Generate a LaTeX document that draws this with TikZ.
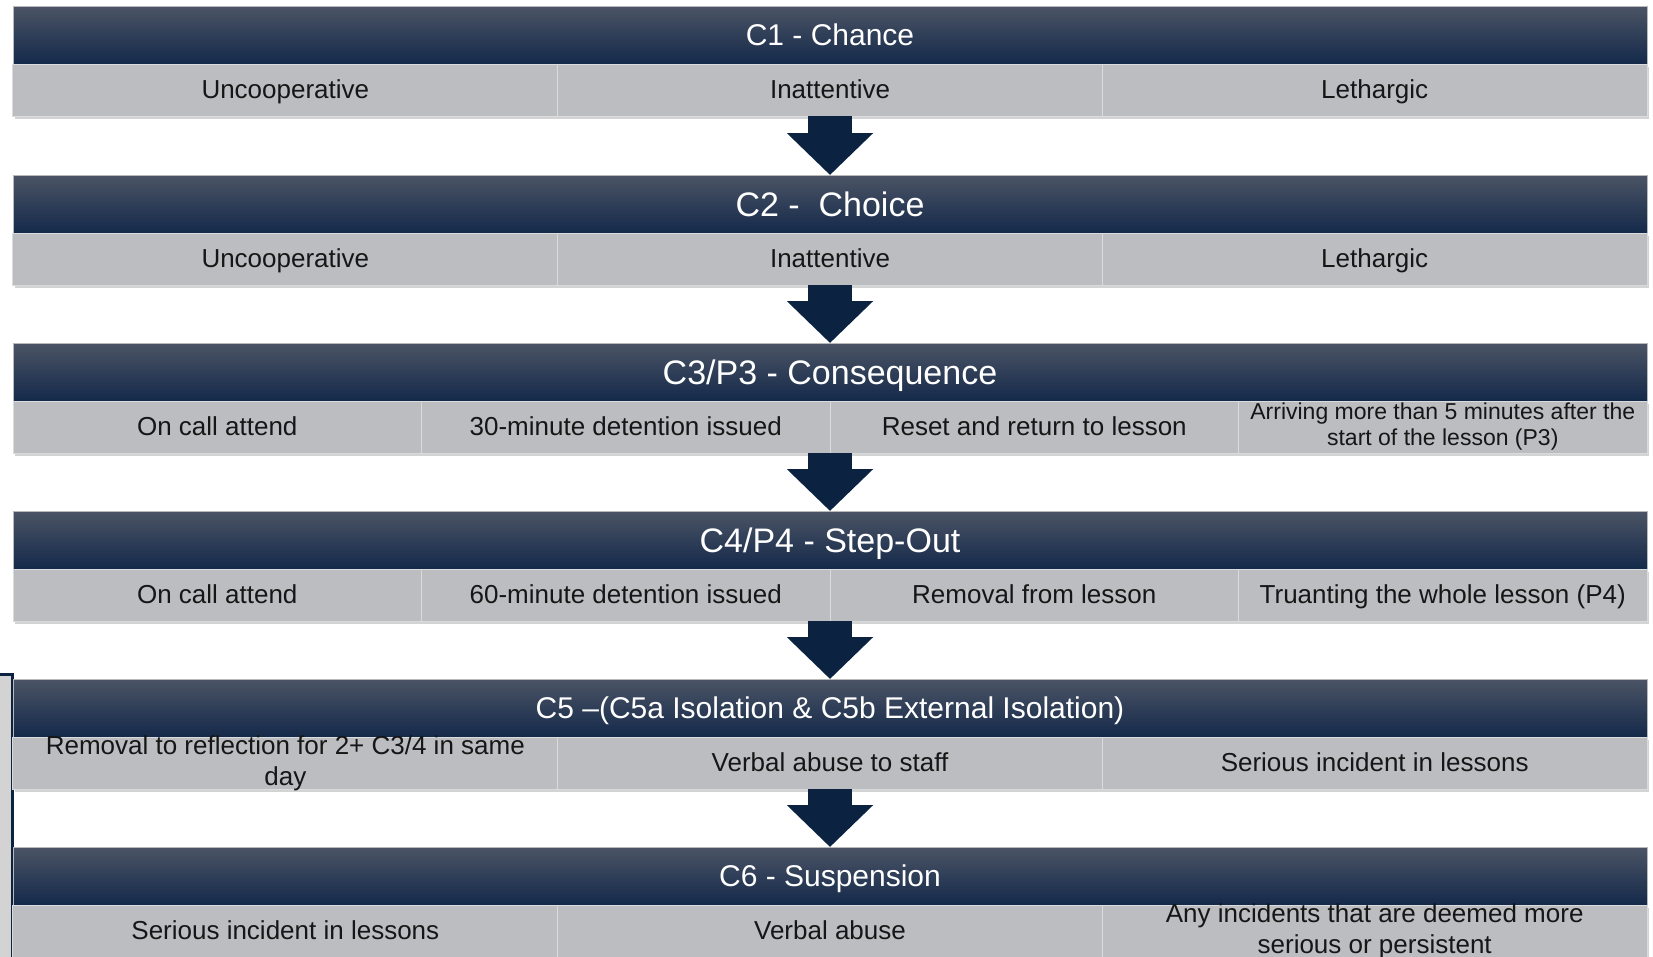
\documentclass[tikz,border=0pt]{standalone}
\usepackage{fontspec}
\setmainfont{Liberation Sans}
\usetikzlibrary{arrows.meta,shadows}
\definecolor{navy}{HTML}{0B2341}
\definecolor{headtop}{HTML}{4B5465}
\definecolor{headbot}{HTML}{14294A}
\definecolor{rowgrey}{HTML}{BBBDC1}
\definecolor{rowline}{HTML}{DADBDD}
\definecolor{sidegrey}{HTML}{D3D3D3}
\definecolor{ink}{HTML}{161616}

\begin{document}
\begin{tikzpicture}[x=1pt,y=-1pt,
  hdr/.style={top color=headtop,bottom color=headbot,draw=gray!55,line width=0.6pt,minimum width=1634pt,minimum height=58pt,inner sep=0pt,outer sep=0pt,text=white,text depth=0pt},
  hbig/.style={hdr,font=\fontsize{34}{40}\selectfont,text height=24.5pt},
  hsmall/.style={hdr,font=\fontsize{30}{36}\selectfont,text height=21.6pt},
  rowbg/.style={fill=rowgrey,minimum width=1634pt,minimum height=52pt,inner sep=0pt,outer sep=0pt,drop shadow={shadow xshift=1.5pt,shadow yshift=-3pt,opacity=0.35}},
  cel3/.style={draw=rowline,line width=1pt,fill=rowgrey,minimum width=544.67pt,minimum height=52pt,inner sep=0pt,align=center,text=ink,font=\fontsize{26}{31}\selectfont,text height=18.7pt,text depth=2pt},
  cel4/.style={cel3,minimum width=408.5pt},
  twoline/.style={text height={},text depth={},inner ysep=-4pt},
  arr/.style={navy,line width=44pt,-{Triangle[width=84pt,length=42pt]}}]
\useasboundingbox (0,0) rectangle (1653,956);
% side bracket
\fill[sidegrey] (-10,674) rectangle (12,970);
\draw[navy,line width=3pt] (-10,674) -- (12,674) -- (12,970);
% C1
\node[hsmall] (h1) at (830,35) {C1 - Chance};
\node[rowbg] (r1) at (830,90) {};
\node[cel3] (c1a) at (285.33,90) {Uncooperative};
\node[cel3] (c1b) at (830,90) {Inattentive};
\node[cel3] (c1c) at (1374.67,90) {Lethargic};
% C2
\node[hbig] (h2) at (830,204) {C2 -\ \ Choice};
\node[rowbg] (r2) at (830,259) {};
\node[cel3] (c2a) at (285.33,259) {Uncooperative};
\node[cel3] (c2b) at (830,259) {Inattentive};
\node[cel3] (c2c) at (1374.67,259) {Lethargic};
% C3
\node[hbig] (h3) at (830,372) {C3/P3 - Consequence};
\node[rowbg] (r3) at (830,427) {};
\node[cel4] (c3a) at (217.25,427) {On call attend};
\node[cel4] (c3b) at (625.75,427) {30-minute detention issued};
\node[cel4] (c3c) at (1034.25,427) {Reset and return to lesson};
\node[cel4,twoline,inner ysep=0pt,font=\fontsize{23}{26}\selectfont] (c3d) at (1442.75,427) {Arriving more than 5 minutes after the\\start of the lesson (P3)};
% C4
\node[hbig] (h4) at (830,540) {C4/P4 - Step-Out};
\node[rowbg] (r4) at (830,595) {};
\node[cel4] (c4a) at (217.25,595) {On call attend};
\node[cel4] (c4b) at (625.75,595) {60-minute detention issued};
\node[cel4] (c4c) at (1034.25,595) {Removal from lesson};
\node[cel4] (c4d) at (1442.75,595) {Truanting the whole lesson (P4)};
% C5
\node[hsmall] (h5) at (830,708) {C5 –(C5a Isolation \& C5b External Isolation)};
\node[rowbg] (r5) at (830,763) {};
\node[cel3,twoline] (c5a) at (285.33,763) {Removal to reflection for 2+ C3/4 in same\\day};
\node[cel3] (c5b) at (830,763) {Verbal abuse to staff};
\node[cel3] (c5c) at (1374.67,763) {Serious incident in lessons};
% C6
\node[hsmall] (h6) at (830,876) {C6 - Suspension};
\node[rowbg] (r6) at (830,931) {};
\node[cel3] (c6a) at (285.33,931) {Serious incident in lessons};
\node[cel3] (c6b) at (830,931) {Verbal abuse};
\node[cel3,twoline] (c6c) at (1374.67,931) {Any incidents that are deemed more\\serious or persistent};
% arrows
\draw[arr] (r1.south) -- (h2.north);
\draw[arr] (r2.south) -- (h3.north);
\draw[arr] (r3.south) -- (h4.north);
\draw[arr] (r4.south) -- (h5.north);
\draw[arr] (r5.south) -- (h6.north);
\end{tikzpicture}
\end{document}
